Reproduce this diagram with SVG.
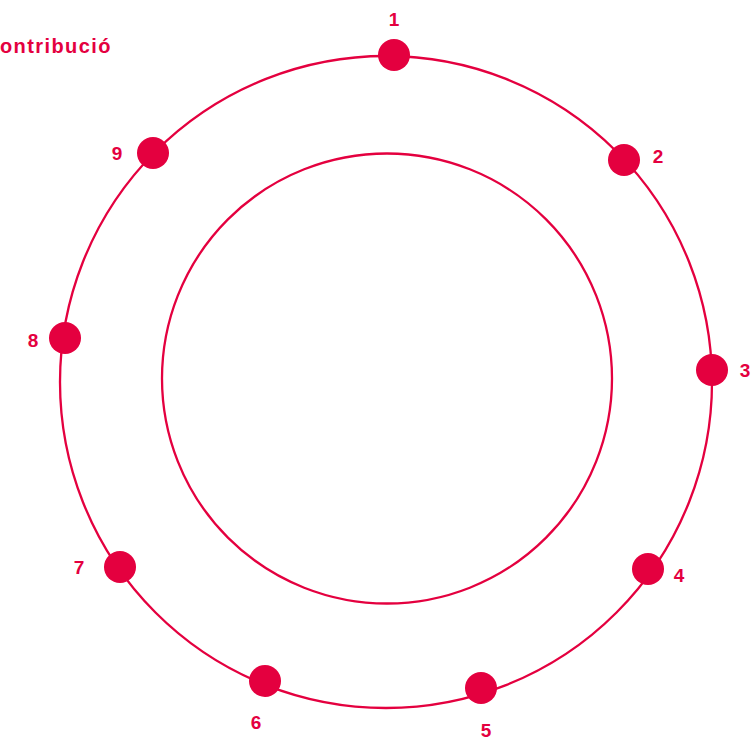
<svg xmlns="http://www.w3.org/2000/svg" width="754" height="742" viewBox="0 0 754 742">
<style>
.ring{fill:none;stroke:#E4003F;stroke-width:2.3}
.dot{fill:#E4003F}
.lbl{font-family:"Liberation Sans",Arial,sans-serif;font-weight:bold;font-size:19px;fill:#E4003F;text-anchor:middle}
.title{font-family:"Liberation Sans",Arial,sans-serif;font-weight:bold;font-size:20px;letter-spacing:1.4px;fill:#E4003F}
</style>
<rect width="754" height="742" fill="#ffffff"/>
<g id="connectors">
<circle class="ring" cx="386" cy="382" r="326"/>
<circle class="ring" cx="387" cy="378.5" r="225"/>
</g>
<text class="title" x="0" y="53">ontribució</text>
<g id="n1"><circle class="dot" cx="394" cy="55" r="16"/><text class="lbl" x="394" y="26">1</text></g>
<g id="n2"><circle class="dot" cx="624" cy="160" r="16"/><text class="lbl" x="658" y="163">2</text></g>
<g id="n3"><circle class="dot" cx="712" cy="370" r="16"/><text class="lbl" x="745" y="377">3</text></g>
<g id="n4"><circle class="dot" cx="648" cy="569" r="16"/><text class="lbl" x="679" y="582">4</text></g>
<g id="n5"><circle class="dot" cx="481" cy="688" r="16"/><text class="lbl" x="486" y="737">5</text></g>
<g id="n6"><circle class="dot" cx="265" cy="681" r="16"/><text class="lbl" x="256" y="729">6</text></g>
<g id="n7"><circle class="dot" cx="120" cy="567" r="16"/><text class="lbl" x="79" y="574">7</text></g>
<g id="n8"><circle class="dot" cx="65" cy="338" r="16"/><text class="lbl" x="33" y="347">8</text></g>
<g id="n9"><circle class="dot" cx="153" cy="153" r="16"/><text class="lbl" x="117" y="160">9</text></g>
</svg>
